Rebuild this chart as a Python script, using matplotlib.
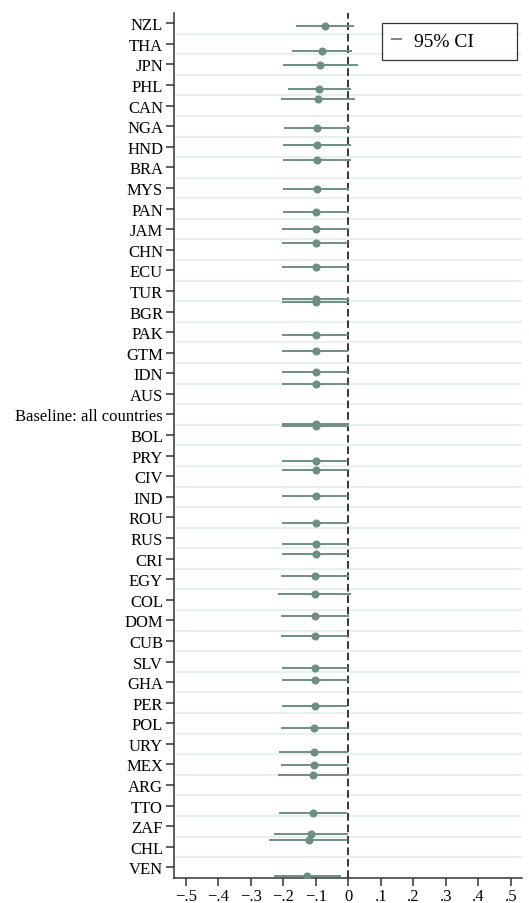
import numpy as np
import matplotlib
matplotlib.use("Agg")
import matplotlib.pyplot as plt

# y-axis labels, top to bottom
labels = ["NZL", "THA", "JPN", "PHL", "CAN", "NGA", "HND", "BRA", "MYS", "PAN",
          "JAM", "CHN", "ECU", "TUR", "BGR", "PAK", "GTM", "IDN", "AUS",
          "Baseline: all countries", "BOL", "PRY", "CIV", "IND", "ROU", "RUS",
          "CRI", "EGY", "COL", "DOM", "CUB", "SLV", "GHA", "PER", "POL", "URY",
          "MEX", "ARG", "TTO", "ZAF", "CHL", "VEN"]

# estimates: row position (label units), coefficient, 95% CI bounds
pos = [0.13, 1.36, 2.04, 3.2, 3.66, 5.08, 5.92, 6.64, 8.06, 9.16,
       10.0, 10.68, 11.84, 13.4, 13.56, 15.15, 15.9, 16.94, 17.54, 19.48, 19.58,
       21.25, 21.72, 22.98, 24.27, 25.3, 25.76, 26.83, 27.74, 28.8, 29.77, 31.3,
       31.88, 33.17, 34.22, 35.4, 36.03, 36.52, 38.35, 39.4, 39.66, 41.41]
coef = [-0.072, -0.081, -0.086, -0.089, -0.093, -0.095, -0.095, -0.095, -0.097, -0.099,
        -0.099, -0.099, -0.099, -0.099, -0.099, -0.099, -0.099, -0.099, -0.099, -0.099, -0.099,
        -0.099, -0.099, -0.099, -0.099, -0.099, -0.099, -0.103, -0.103, -0.103, -0.103, -0.103,
        -0.103, -0.103, -0.105, -0.105, -0.105, -0.108, -0.108, -0.115, -0.122, -0.128]
lo = [-0.161, -0.173, -0.200, -0.187, -0.208, -0.197, -0.200, -0.200, -0.200, -0.200,
      -0.203, -0.203, -0.203, -0.205, -0.205, -0.203, -0.203, -0.203, -0.203, -0.205, -0.205,
      -0.203, -0.203, -0.203, -0.203, -0.203, -0.203, -0.206, -0.216, -0.207, -0.207, -0.205,
      -0.205, -0.205, -0.208, -0.213, -0.207, -0.217, -0.213, -0.229, -0.243, -0.230]
hi = [0.016, 0.011, 0.029, 0.009, 0.021, 0.005, 0.007, 0.007, 0.003, 0.002,
      0.001, 0.000, 0.000, 0.001, 0.001, 0.000, 0.000, 0.000, 0.000, 0.001, 0.001,
      0.000, 0.000, 0.000, 0.000, 0.000, 0.000, 0.003, 0.009, 0.001, 0.000, -0.001,
      0.000, -0.004, 0.000, 0.000, 0.000, 0.001, -0.004, 0.000, 0.000, -0.023]

xticks = [-0.5, -0.4, -0.3, -0.2, -0.1, 0, 0.1, 0.2, 0.3, 0.4, 0.5]
xticklabels = ["\u2212.5", "\u2212.4", "\u2212.3", "\u2212.2", "\u2212.1", "0",
               ".1", ".2", ".3", ".4", ".5"]

green = "#6d8f81"
plt.rcParams['font.family'] = ['Liberation Serif', 'DejaVu Serif']

fig = plt.figure(figsize=(5.29, 9.04), dpi=100)
ax = fig.add_axes([0.328, 0.028, 0.659, 0.9565])

ypos = np.arange(len(labels))
# grid lines between the labels
for g in ypos[:-1] + 0.5:
    ax.axhline(g, color="#e8f0f4", lw=1.5, zorder=0)

ax.axvline(0, color="black", lw=1.1, ls=(0, (5, 2.5)), zorder=1)

ax.hlines(pos, lo, hi, color=green, lw=1.4, zorder=2, label="95% CI")
ax.plot(coef, pos, "o", color=green, ms=4.8, zorder=3)

ax.set_ylim(len(labels) - 0.5, -0.5)
ax.set_xlim(-0.538, 0.535)
ax.set_yticks(ypos)
ax.set_yticklabels(labels, fontsize=12)
ax.set_xticks(xticks)
ax.set_xticklabels(xticklabels, fontsize=12)

for s in ["top", "right"]:
    ax.spines[s].set_visible(False)
for s in ["left", "bottom"]:
    ax.spines[s].set_color("#333333")
    ax.spines[s].set_linewidth(1.1)
ax.tick_params(axis="both", length=5.5, width=1.1, color="#333333", pad=2)

leg = ax.legend(loc="upper left", bbox_to_anchor=(0.597, 0.9885, 0.387, 0.0),
                mode="expand", fontsize=14, handlelength=0.55, frameon=True,
                fancybox=False, borderpad=0.5, handletextpad=0.6,
                borderaxespad=0.0)
leg.get_frame().set_edgecolor("black")
leg.get_frame().set_linewidth(0.9)

fig.savefig("out.png", dpi=100)
